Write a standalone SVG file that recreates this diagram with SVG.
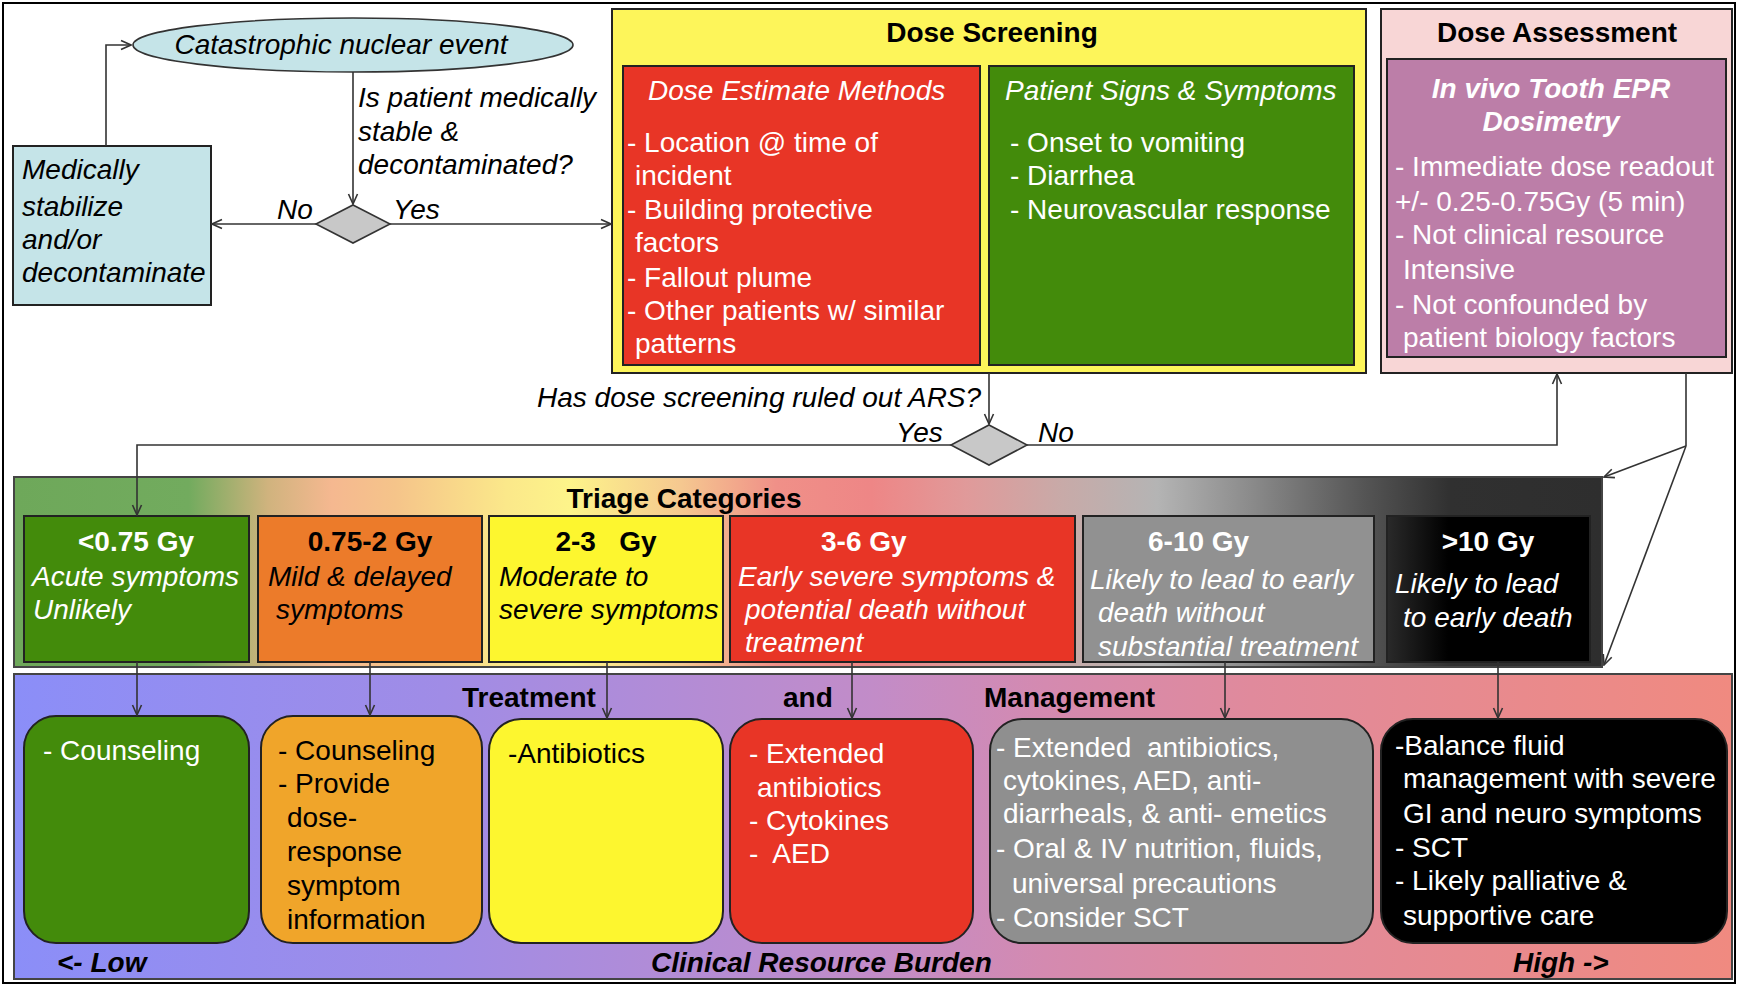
<svg xmlns="http://www.w3.org/2000/svg" width="1739" height="987" viewBox="0 0 1739 987">
<style>
.t{font-family:"Liberation Sans",Arial,Helvetica,sans-serif;font-size:28px;fill:#000}
.i{font-style:italic}
.b{font-weight:bold}
.w{fill:#fff}
.m{text-anchor:middle}
.pre{white-space:pre}
.box{stroke:#222;stroke-width:2}
.con{fill:none;stroke:#333;stroke-width:1.6}
</style>
<defs>
<marker id="ah" viewBox="0 0 12 12" refX="11" refY="6" markerWidth="12" markerHeight="12" orient="auto" markerUnits="userSpaceOnUse">
<path d="M1,1.5 L11,6 L1,10.5" fill="none" stroke="#333" stroke-width="1.6"/>
</marker>
<linearGradient id="triG" x1="14" y1="0" x2="1602" y2="0" gradientUnits="userSpaceOnUse">
<stop offset="0" stop-color="#6ea85a"/>
<stop offset="0.11" stop-color="#72ab5e"/>
<stop offset="0.16" stop-color="#d0b37e"/>
<stop offset="0.2" stop-color="#f5b890"/>
<stop offset="0.24" stop-color="#f5c48a"/>
<stop offset="0.31" stop-color="#fbe88a"/>
<stop offset="0.35" stop-color="#fdf48a"/>
<stop offset="0.42" stop-color="#f5c890"/>
<stop offset="0.48" stop-color="#f09088"/>
<stop offset="0.54" stop-color="#ee8686"/>
<stop offset="0.6" stop-color="#e09a9a"/>
<stop offset="0.66" stop-color="#c8aaa8"/>
<stop offset="0.72" stop-color="#b4b4b4"/>
<stop offset="0.78" stop-color="#8a8a8a"/>
<stop offset="0.85" stop-color="#555"/>
<stop offset="0.905" stop-color="#303030"/>
<stop offset="1" stop-color="#2e2e2e"/>
</linearGradient>
<linearGradient id="trtG" x1="14" y1="0" x2="1732" y2="0" gradientUnits="userSpaceOnUse">
<stop offset="0" stop-color="#8b8ef8"/>
<stop offset="0.25" stop-color="#a08ce6"/>
<stop offset="0.5" stop-color="#c28cc8"/>
<stop offset="0.6" stop-color="#d48ab0"/>
<stop offset="0.72" stop-color="#e08a9c"/>
<stop offset="1" stop-color="#f08a80"/>
</linearGradient>
<linearGradient id="blkG" x1="0" y1="0" x2="1" y2="0">
<stop offset="0" stop-color="#2a2a2a"/>
<stop offset="0.3" stop-color="#000"/>
<stop offset="1" stop-color="#000"/>
</linearGradient>
</defs>

<rect x="3" y="3" width="1732" height="980" fill="#fff" stroke="#000" stroke-width="2"/>

<g id="start">
<ellipse cx="353" cy="45" rx="220" ry="27" fill="#c5e4e8" stroke="#333" stroke-width="1.6"/>
<text class="t i m" x="341" y="54">Catastrophic nuclear event</text>
</g>

<g id="stabilize">
<rect class="box" x="13" y="146" width="198" height="159" fill="#c5e4e8"/>
<text class="t i" x="22" y="179">Medically</text>
<text class="t i" x="22" y="216">stabilize</text>
<text class="t i" x="22" y="249">and/or</text>
<text class="t i" x="22" y="282">decontaminate</text>
</g>

<g id="decision1">
<polygon points="353,205 390,224 353,243 316,224" fill="#c8c8c8" stroke="#333" stroke-width="1.6"/>
<text class="t i" x="358" y="107">Is patient medically</text>
<text class="t i" x="358" y="141">stable &amp;</text>
<text class="t i" x="358" y="174">decontaminated?</text>
<text class="t i" x="277" y="219">No</text>
<text class="t i" x="393" y="219">Yes</text>
</g>

<g id="dose-screening">
<rect class="box" x="612" y="9" width="754" height="364" fill="#fdf55a"/>
<text class="t b m" x="992" y="42">Dose Screening</text>
<rect class="box" x="623" y="66" width="357" height="299" fill="#e83526"/>
<text class="t i w" x="648" y="100">Dose Estimate Methods</text>
<text class="t w" x="627" y="152">- Location @ time of</text>
<text class="t w" x="635" y="185">incident</text>
<text class="t w" x="627" y="219">- Building protective</text>
<text class="t w" x="635" y="252">factors</text>
<text class="t w" x="627" y="287">- Fallout plume</text>
<text class="t w" x="627" y="320">- Other patients w/ similar</text>
<text class="t w" x="635" y="353">patterns</text>
<rect class="box" x="989" y="66" width="365" height="299" fill="#438b0b"/>
<text class="t i w" x="1005" y="100">Patient Signs &amp; Symptoms</text>
<text class="t w" x="1010" y="152">- Onset to vomiting</text>
<text class="t w" x="1010" y="185">- Diarrhea</text>
<text class="t w" x="1010" y="219">- Neurovascular response</text>
</g>

<g id="dose-assessment">
<rect class="box" x="1381" y="9" width="351" height="364" fill="#f8d6d6"/>
<text class="t b m" x="1557" y="42">Dose Assessment</text>
<rect class="box" x="1387" y="59" width="339" height="298" fill="#bc7ea8"/>
<text class="t b i w m" x="1551" y="98">In vivo Tooth EPR</text>
<text class="t b i w m" x="1551" y="131">Dosimetry</text>
<text class="t w" x="1395" y="176">- Immediate dose readout</text>
<text class="t w" x="1395" y="211">+/- 0.25-0.75Gy (5 min)</text>
<text class="t w" x="1395" y="244">- Not clinical resource</text>
<text class="t w" x="1403" y="279">Intensive</text>
<text class="t w" x="1395" y="314">- Not confounded by</text>
<text class="t w" x="1403" y="347">patient biology factors</text>
</g>

<g id="decision2">
<polygon points="989,425 1027,445 989,465 951,445" fill="#c8c8c8" stroke="#333" stroke-width="1.6"/>
<text class="t i" x="537" y="407">Has dose screening ruled out ARS?</text>
<text class="t i" x="896" y="442">Yes</text>
<text class="t i" x="1038" y="442">No</text>
</g>

<g id="triage">
<rect x="14" y="477" width="1588" height="190" fill="url(#triG)" stroke="#444" stroke-width="2"/>
<text class="t b m" x="684" y="508">Triage Categories</text>
</g>
<g id="tri-1">
<rect class="box" x="24" y="516" width="225" height="146" fill="#438b0b"/>
<text class="t b w m" x="136" y="551">&lt;0.75 Gy</text>
<text class="t i w" x="32" y="586">Acute symptoms</text>
<text class="t i w" x="33" y="619">Unlikely</text>
</g>
<g id="tri-2">
<rect class="box" x="258" y="516" width="224" height="146" fill="#ec7b2a"/>
<text class="t b m" x="370" y="551">0.75-2 Gy</text>
<text class="t i" x="268" y="586">Mild &amp; delayed</text>
<text class="t i" x="276" y="619">symptoms</text>
</g>
<g id="tri-3">
<rect class="box" x="489" y="516" width="234" height="146" fill="#fdf62f"/>
<text class="t b m pre" x="606" y="551">2-3   Gy</text>
<text class="t i" x="499" y="586">Moderate to</text>
<text class="t i" x="499" y="619">severe symptoms</text>
</g>
<g id="tri-4">
<rect class="box" x="730" y="516" width="345" height="146" fill="#e83526"/>
<text class="t b w" x="821" y="551">3-6 Gy</text>
<text class="t i w" x="738" y="586">Early severe symptoms &amp;</text>
<text class="t i w" x="745" y="619">potential death without</text>
<text class="t i w" x="745" y="652">treatment</text>
</g>
<g id="tri-5">
<rect class="box" x="1083" y="516" width="291" height="146" fill="#919191"/>
<text class="t b w" x="1148" y="551">6-10 Gy</text>
<text class="t i w" x="1090" y="589">Likely to lead to early</text>
<text class="t i w" x="1098" y="622">death without</text>
<text class="t i w" x="1098" y="656">substantial treatment</text>
</g>
<g id="tri-6">
<rect class="box" x="1387" y="516" width="203" height="146" fill="url(#blkG)"/>
<text class="t b w m" x="1488" y="551">&gt;10 Gy</text>
<text class="t i w" x="1395" y="593">Likely to lead</text>
<text class="t i w" x="1403" y="627">to early death</text>
</g>

<g id="treatment">
<rect x="14" y="674" width="1718" height="305" fill="url(#trtG)" stroke="#444" stroke-width="2"/>
<text class="t b" x="462" y="707">Treatment</text>
<text class="t b" x="783" y="707">and</text>
<text class="t b" x="984" y="707">Management</text>
<text class="t b i" x="57" y="972">&lt;- Low</text>
<text class="t b i" x="651" y="972">Clinical Resource Burden</text>
<text class="t b i" x="1513" y="972">High -&gt;</text>
</g>
<g id="trt-1">
<rect class="box" x="24" y="716" width="225" height="227" rx="32" fill="#438b0b"/>
<text class="t w" x="43" y="760">- Counseling</text>
</g>
<g id="trt-2">
<rect class="box" x="261" y="716" width="221" height="227" rx="32" fill="#f0a52a"/>
<text class="t" x="278" y="760">- Counseling</text>
<text class="t" x="278" y="793">- Provide</text>
<text class="t" x="287" y="827">dose-</text>
<text class="t" x="287" y="861">response</text>
<text class="t" x="287" y="895">symptom</text>
<text class="t" x="287" y="929">information</text>
</g>
<g id="trt-3">
<rect class="box" x="489" y="719" width="234" height="224" rx="32" fill="#fdf62f"/>
<text class="t" x="508" y="763">-Antibiotics</text>
</g>
<g id="trt-4">
<rect class="box" x="730" y="719" width="243" height="224" rx="32" fill="#e83526"/>
<text class="t w" x="749" y="763">- Extended</text>
<text class="t w" x="757" y="797">antibiotics</text>
<text class="t w" x="749" y="830">- Cytokines</text>
<text class="t w pre" x="749" y="863">-  AED</text>
</g>
<g id="trt-5">
<rect class="box" x="990" y="719" width="383" height="224" rx="32" fill="#8f8f8f"/>
<text class="t w pre" x="996" y="757">- Extended  antibiotics,</text>
<text class="t w" x="1003" y="790">cytokines, AED, anti-</text>
<text class="t w" x="1003" y="823">diarrheals, &amp; anti- emetics</text>
<text class="t w" x="996" y="858">- Oral &amp; IV nutrition, fluids,</text>
<text class="t w" x="1012" y="893">universal precautions</text>
<text class="t w" x="996" y="927">- Consider SCT</text>
</g>
<g id="trt-6">
<rect class="box" x="1381" y="719" width="346" height="224" rx="32" fill="#000"/>
<text class="t w" x="1395" y="755">-Balance fluid</text>
<text class="t w" x="1403" y="788">management with severe</text>
<text class="t w" x="1403" y="823">GI and neuro symptoms</text>
<text class="t w" x="1395" y="857">- SCT</text>
<text class="t w" x="1395" y="890">- Likely palliative &amp;</text>
<text class="t w" x="1403" y="925">supportive care</text>
</g>

<g id="connectors" class="con">
<path d="M106,146 V45 H131" marker-end="url(#ah)"/>
<path d="M353,72 V204" marker-end="url(#ah)"/>
<path d="M316,224 H212" marker-end="url(#ah)"/>
<path d="M390,224 H611" marker-end="url(#ah)"/>
<path d="M989,373 V424" marker-end="url(#ah)"/>
<path d="M951,445 H137 V515" marker-end="url(#ah)"/>
<path d="M1027,445 H1557 V374" marker-end="url(#ah)"/>
<path d="M1686,373 V446"/>
<path d="M1686,446 L1604,477" marker-end="url(#ah)"/>
<path d="M1686,446 L1604,665" marker-end="url(#ah)"/>
<path d="M137,662 V715" marker-end="url(#ah)"/>
<path d="M370,662 V715" marker-end="url(#ah)"/>
<path d="M607,662 V718" marker-end="url(#ah)"/>
<path d="M852,662 V718" marker-end="url(#ah)"/>
<path d="M1225,662 V718" marker-end="url(#ah)"/>
<path d="M1498,662 V718" marker-end="url(#ah)"/>
</g>
</svg>
